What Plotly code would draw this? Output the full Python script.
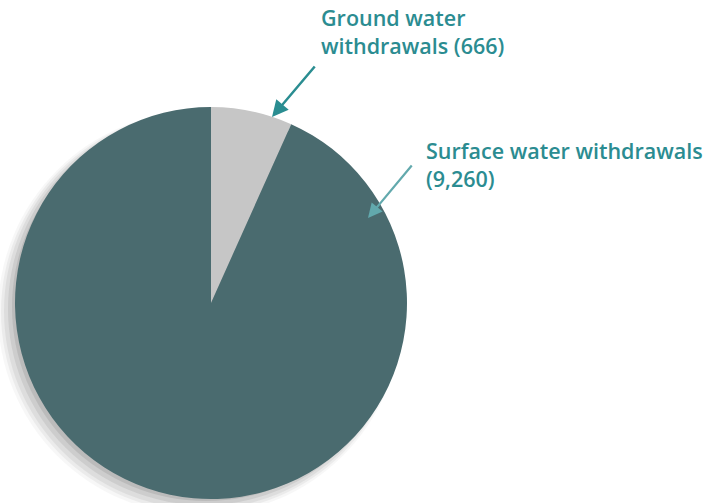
import plotly.graph_objects as go

labels = ["Ground water withdrawals", "Surface water withdrawals"]
values = [666, 9260]
label_texts = ["Ground water<br>withdrawals (666)", "Surface water withdrawals<br>(9,260)"]
slice_colors = ["#c6c6c6", "#4a6b6f"]

W, H = 710, 503
cx, cy, r = 211, 303, 196

fig = go.Figure()
fig.add_trace(go.Pie(
    labels=labels, values=values, sort=False, direction="clockwise", rotation=0,
    marker=dict(colors=slice_colors, line=dict(width=0)),
    textinfo="none", hoverinfo="label+value", showlegend=False,
    domain=dict(x=[(cx - r) / W, (cx + r) / W], y=[(H - cy - r) / H, (H - cy + r) / H]),
))

# soft shadow to lower-left
shapes = []
for dx, dy, grow, op in [(-11, 10, 6, 0.05), (-10, 9, 4, 0.07), (-9, 8, 2, 0.09), (-7, 6, 0, 0.12), (-5, 4, -2, 0.15)]:
    rr = r + grow
    x0, x1 = (cx + dx - rr) / W, (cx + dx + rr) / W
    y0, y1 = (H - (cy + dy) - rr) / H, (H - (cy + dy) + rr) / H
    shapes.append(dict(type="circle", xref="paper", yref="paper", x0=x0, x1=x1, y0=y0, y1=y1,
                       fillcolor=f"rgba(90,90,90,{op})", line=dict(width=0), layer="below"))

teal = "#2b8c91"
font = dict(family="Open Sans", size=21.5, color=teal, weight=600)
annotations = [
    dict(text=label_texts[0], xref="paper", yref="paper", x=319 / W, y=1 - 1 / H,
         xanchor="left", yanchor="top", align="left", showarrow=False, font=font),
    dict(text=label_texts[1], xref="paper", yref="paper", x=424 / W, y=1 - 134 / H,
         xanchor="left", yanchor="top", align="left", showarrow=False, font=font),
    dict(text="", xref="paper", yref="paper", x=272 / W, y=1 - 117 / H, ax=316 - 272, ay=65 - 117,
         showarrow=True, arrowhead=2, arrowsize=1.3, arrowwidth=2.5, arrowcolor="#2a8d91"),
    dict(text="", xref="paper", yref="paper", x=368 / W, y=1 - 218 / H, ax=413 - 368, ay=164 - 218,
         showarrow=True, arrowhead=2, arrowsize=1.3, arrowwidth=2.2, arrowcolor="#62a9ad"),
]

fig.update_layout(width=W, height=H, margin=dict(l=0, r=0, t=0, b=0),
                  paper_bgcolor="white", plot_bgcolor="white",
                  shapes=shapes, annotations=annotations)
fig.write_html("out.html", config={"displayModeBar": False},
               post_script="document.body.style.margin='0';")
